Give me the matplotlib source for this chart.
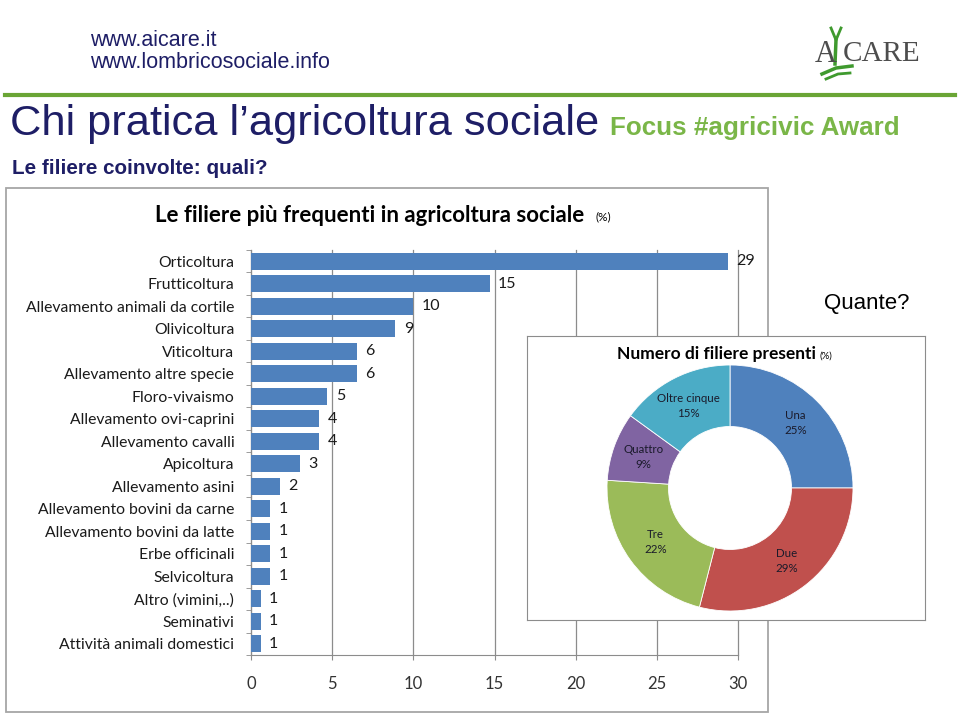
import matplotlib
matplotlib.use("Agg")
import numpy as np
import matplotlib.pyplot as plt
from matplotlib import font_manager
from matplotlib.patches import Rectangle
from matplotlib.lines import Line2D

# --- data ---
categories = [
    "Orticoltura", "Frutticoltura", "Allevamento animali da cortile", "Olivicoltura",
    "Viticoltura", "Allevamento altre specie", "Floro-vivaismo", "Allevamento ovi-caprini",
    "Allevamento cavalli", "Apicoltura", "Allevamento asini", "Allevamento bovini da carne",
    "Allevamento bovini da latte", "Erbe officinali", "Selvicoltura", "Altro (vimini,..)",
    "Seminativi", "Attività animali domestici",
]
values = [29.4, 14.7, 10.0, 8.9, 6.5, 6.5, 4.7, 4.2, 4.2, 3.0, 1.8, 1.2, 1.2, 1.2, 1.2, 0.6, 0.6, 0.6]
value_labels = ["29", "15", "10", "9", "6", "6", "5", "4", "4", "3", "2", "1", "1", "1", "1", "1", "1", "1"]
x_ticks = [0, 5, 10, 15, 20, 25, 30]

donut_labels = ["Una", "Due", "Tre", "Quattro", "Oltre cinque"]
donut_values = [25, 29, 22, 9, 15]
donut_colors = ["#4f81bd", "#c0504d", "#9bbb59", "#8064a2", "#4bacc6"]

W, H = 960, 713
NAVY = "#1e1e66"
GREEN = "#7ab648"
BAR = "#4f81bd"
GRID = "#8c8c8c"


def pick(*names):
    for n in names:
        try:
            font_manager.findfont(font_manager.FontProperties(family=n), fallback_to_default=False)
            return n
        except ValueError:
            pass
    return "DejaVu Sans"


NARROW = pick("Liberation Sans Narrow", "Liberation Sans")
CHART = pick("Lato", "Open Sans")
SERIF = pick("Liberation Serif", "DejaVu Serif")


def fx(px):
    return px / W


def fy(py):
    return 1 - py / H


fig = plt.figure(figsize=(W / 100, H / 100), dpi=100)
fig.patch.set_facecolor("white")

# --- slide header ---
fig.text(fx(90), fy(40), "www.aicare.it", family=NARROW, fontsize=15.5, color=NAVY, va="center")
fig.text(fx(90), fy(63), "www.lombricosociale.info", family=NARROW, fontsize=15.5, color=NAVY, va="center")
fig.add_artist(Line2D([fx(5), fx(955)], [fy(95), fy(95)], color="#6aa535", lw=3))
fig.text(fx(10), fy(124), "Chi pratica l\u2019agricoltura sociale", family=NARROW, fontsize=31.2,
         color=NAVY, va="center")
fig.text(fx(610), fy(128), "Focus #agricivic Award", family=NARROW, fontsize=18.7, weight="bold",
         color=GREEN, va="center")
fig.text(fx(12), fy(168), "Le filiere coinvolte: quali?", family=NARROW, fontsize=14.9, weight="bold",
         color=NAVY, va="center")

# logo
fig.text(fx(815), fy(54), "A", family=SERIF, fontsize=22, color="#4d4d4d", va="center")
fig.text(fx(843), fy(54), "CARE", family=SERIF, fontsize=21, color="#4d4d4d", va="center")
fig.add_artist(Line2D([fx(836), fx(835)], [fy(40), fy(64)], color="#3f9a2e", lw=2.5))
fig.add_artist(Line2D([fx(831), fx(836), fx(841)], [fy(28), fy(40), fy(28)], color="#3f9a2e", lw=2))
fig.add_artist(Line2D([fx(822), fx(836), fx(852)], [fy(74), fy(68), fy(66)], color="#3f9a2e", lw=2.5))
fig.add_artist(Line2D([fx(826), fx(838), fx(850)], [fy(79), fy(74), fy(73)], color="#3f9a2e", lw=2))

fig.text(fx(867), fy(303), "Quante?", family="Liberation Sans", fontsize=16, color="black",
         ha="center", va="center")

# chart frame
fig.add_artist(Rectangle((fx(6), fy(712)), (768 - 6) / W, (712 - 188) / H, transform=fig.transFigure,
                         fill=False, ec="#a6a6a6", lw=1.3))

# --- bar chart ---
fig.text(fx(155), fy(215), "Le filiere più frequenti in agricoltura sociale", family=CHART,
         fontsize=16, weight="bold", color="black", va="center")
fig.text(fx(596), fy(217), "(%)", family=CHART, fontsize=8.5, color="black", va="center")

ax = fig.add_axes([fx(251), fy(655), (738 - 251) / W, (655 - 250) / H])
y = np.arange(len(categories))
ax.barh(y, values, height=0.75, color=BAR, zorder=3)
ax.set_xlim(0, 30)
ax.set_ylim(len(categories) - 0.5, -0.5)
ax.set_xticks(x_ticks)
ax.set_xticklabels([str(t) for t in x_ticks], family=CHART, fontsize=12, color="#333333")
ax.set_yticks(y)
ax.set_yticklabels(categories, family=CHART, fontsize=11.3, color="#1a1a1a")
ax.set_yticks(np.arange(-0.5, len(categories)), minor=True)
ax.tick_params(axis="y", which="major", length=0, pad=12)
ax.tick_params(axis="y", which="minor", length=3.5, color=GRID)
ax.tick_params(axis="x", length=3.5, color=GRID, pad=11.5)
ax.grid(axis="x", color=GRID, lw=0.9, zorder=1)
for gl in ax.get_xgridlines():
    gl.set_clip_on(False)
for s in ["top", "right"]:
    ax.spines[s].set_visible(False)
for s in ["left", "bottom"]:
    ax.spines[s].set_color(GRID)
for yi, v, lab in zip(y, values, value_labels):
    ax.annotate(lab, (v, yi), xytext=(6, 0), textcoords="offset points", va="center",
                family=CHART, fontsize=11.5, color="#1a1a1a")

# --- donut inset ---
box = fig.add_axes([fx(527), fy(620), (925 - 527) / W, (620 - 336) / H], zorder=5)
box.set_facecolor("white")
box.set_xticks([])
box.set_yticks([])
for s in box.spines.values():
    s.set_color("#8c8c8c")
box.text((617 - 527) / 398, 1 - (354 - 336) / 284, "Numero di filiere presenti",
         transform=box.transAxes, family=CHART, fontsize=12.5, weight="bold", va="center")
box.text((819 - 527) / 398, 1 - (356 - 336) / 284, "(%)", transform=box.transAxes,
         family=CHART, fontsize=7, va="center")

pax = fig.add_axes([fx(607), fy(611), 246 / W, 246 / H], zorder=6)
pax.set_facecolor("none")
wedges, _ = pax.pie(donut_values, colors=donut_colors, startangle=90, counterclock=False,
                    radius=1, wedgeprops=dict(width=0.5, edgecolor="white", linewidth=0.6))
pax.set_xlim(-1, 1)
pax.set_ylim(-1, 1)
pax.set_aspect("equal")
pax.axis("off")
for w, lab, v in zip(wedges, donut_labels, donut_values):
    ang = np.deg2rad((w.theta1 + w.theta2) / 2)
    pax.text(0.75 * np.cos(ang), 0.75 * np.sin(ang), f"{lab}\n{v}%", ha="center", va="center",
             family=CHART, fontsize=8.3, color="#1a1a2a", linespacing=1.5)

fig.savefig("out.png", dpi=100, facecolor="white")
